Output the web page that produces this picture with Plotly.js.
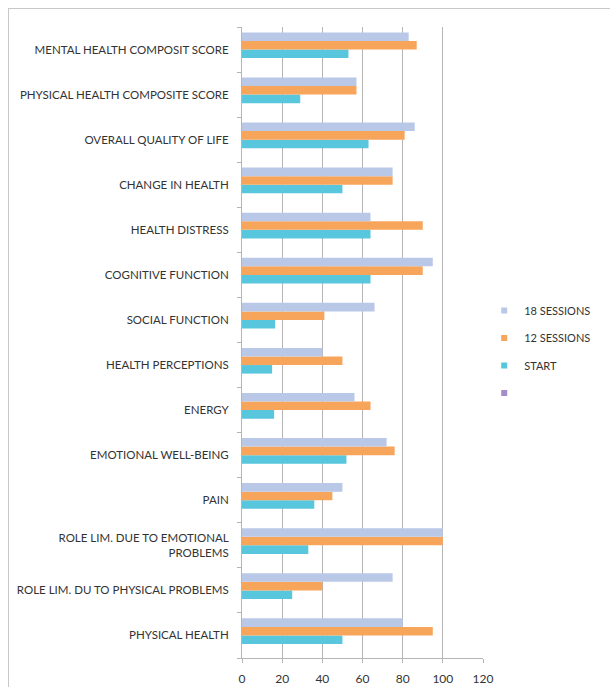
<!DOCTYPE html>
<html>
<head>
<meta charset="utf-8">
<script src="https://cdn.plot.ly/plotly-3.0.1.min.js"></script>
<style>
html,body{margin:0;padding:0;background:#fff;}
#frame{position:absolute;left:8px;top:8px;width:700px;height:700px;border:1px solid #c8c8c8;}
#chart{position:absolute;left:0;top:0;width:610px;height:687px;}
</style>
</head>
<body>
<div id="frame"></div>
<div id="chart"></div>
<script>
// Categories listed bottom to top
const categories = [
  "PHYSICAL HEALTH",
  "ROLE LIM. DU TO PHYSICAL PROBLEMS",
  "ROLE LIM. DUE TO EMOTIONAL<br>PROBLEMS",
  "PAIN",
  "EMOTIONAL WELL-BEING",
  "ENERGY",
  "HEALTH PERCEPTIONS",
  "SOCIAL FUNCTION",
  "COGNITIVE FUNCTION",
  "HEALTH DISTRESS",
  "CHANGE IN HEALTH",
  "OVERALL QUALITY OF LIFE",
  "PHYSICAL HEALTH COMPOSITE SCORE",
  "MENTAL HEALTH COMPOSIT SCORE"
];
const startVals     = [50, 25, 33, 36, 52, 16, 15, 16.5, 64, 64, 50, 63, 29, 53];
const sessions12    = [95, 40, 100, 45, 76, 64, 50, 41, 90, 90, 75, 81, 57, 87];
const sessions18    = [80, 75, 100, 50, 72, 56, 40, 66, 95, 64, 75, 86, 57, 83];
const blankVals     = categories.map(() => null);
const seriesNames   = ["18 SESSIONS", "12 SESSIONS", "START", " "];
const seriesColors  = ["#bac8e8", "#f8a55c", "#58c6dc", "#a48dcb"];
const xTicks        = [0, 20, 40, 60, 80, 100, 120];

const barSeries = [
  {name:seriesNames[3], x:blankVals,  color:seriesColors[3]},
  {name:seriesNames[2], x:startVals,  color:seriesColors[2]},
  {name:seriesNames[1], x:sessions12, color:seriesColors[1]},
  {name:seriesNames[0], x:sessions18, color:seriesColors[0]}
];

const traces = barSeries.map(s => ({
  type:'bar', orientation:'h', name:s.name, y:categories, x:s.x,
  marker:{color:s.color}, showlegend:false
}));

// legend entries (small square keys)
seriesNames.forEach((n, i) => {
  traces.push({
    type:'scatter', mode:'markers', name:n, x:[null], y:[null],
    marker:{symbol:'square', size:6, color:seriesColors[i]},
    legendrank:i + 1, legendgroup:'g' + i, hoverinfo:'skip'
  });
});

const font = {family:'Lato, "Open Sans", sans-serif', size:11, color:'#333'};

const layout = {
  width:610, height:687,
  margin:{l:242, r:127, t:27, b:29},
  paper_bgcolor:'rgba(0,0,0,0)',
  plot_bgcolor:'rgba(0,0,0,0)',
  barmode:'group',
  bargap:0.24,
  bargroupgap:0,
  font:font,
  showlegend:true,
  legend:{x:1.005, xanchor:'left', y:0.5737, yanchor:'top',
          traceorder:'grouped', tracegroupgap:8.5, itemwidth:30,
          font:{family:font.family, size:11, color:'#333'}},
  xaxis:{range:[0,120], tickvals:xTicks, ticktext:xTicks.map(String),
         showgrid:true, gridcolor:'#b5b5b5', gridwidth:1,
         showline:true, linecolor:'#b5b5b5', ticks:'outside', ticklen:4,
         tickcolor:'#b5b5b5', zeroline:false, ticklabelstandoff:6,
         tickfont:{family:font.family, size:12, color:'#333'}},
  yaxis:{type:'category', categoryorder:'array', categoryarray:categories,
         showline:true, linecolor:'#b5b5b5', ticks:'outside', ticklen:4,
         tickcolor:'#b5b5b5', tickson:'boundaries', showgrid:false,
         automargin:false, ticklabelstandoff:10,
         tickfont:{family:font.family, size:11.5, color:'#333'}}
};

Plotly.newPlot('chart', traces, layout, {displayModeBar:false, staticPlot:true});
</script>
</body>
</html>
